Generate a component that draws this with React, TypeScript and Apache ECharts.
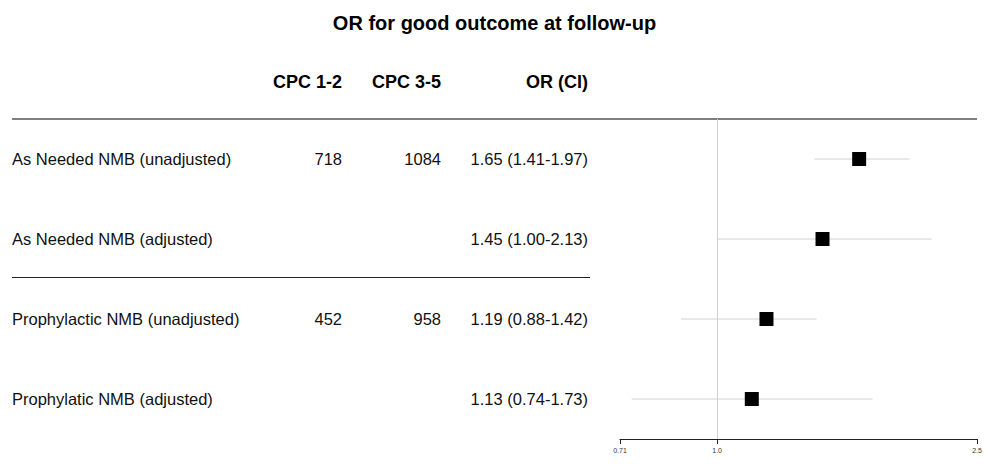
import React, { useEffect, useRef } from "react";
import * as echarts from "echarts";

const titleText = "OR for good outcome at follow-up";
const columnHeaders = ["CPC 1-2", "CPC 3-5", "OR (CI)"];
const rowLabels = [
  "As Needed NMB (unadjusted)",
  "As Needed NMB (adjusted)",
  "Prophylactic NMB (unadjusted)",
  "Prophylatic NMB (adjusted)",
];
const cpc12 = ["718", "", "452", ""];
const cpc35 = ["1084", "", "958", ""];
const orValues = [1.65, 1.45, 1.19, 1.13];
const ciLow = [1.41, 1.0, 0.88, 0.74];
const ciHigh = [1.97, 2.13, 1.42, 1.73];
const axisTicks = [0.71, 1.0, 2.5];
const tickLabels = ["0.71", "1.0", "2.5"];

const FONT = "Liberation Sans, Arial, sans-serif";
const BODY = 16.5;
const HEAD = 18;

export default function App() {
  const ref = useRef<HTMLDivElement>(null);
  useEffect(() => {
    if (!ref.current) return;
    const chart = echarts.init(ref.current, undefined, { renderer: "svg" });
    const orText = orValues.map(
      (v, i) => `${v.toFixed(2)} (${ciLow[i].toFixed(2)}-${ciHigh[i].toFixed(2)})`
    );
    const gridLeft = 620;
    const labelAxis = (data: string[], margin: number, align: string, name: string) => ({
      type: "category",
      data,
      inverse: true,
      gridIndex: 0,
      position: "left",
      axisLine: { show: false },
      axisTick: { show: false },
      splitLine: { show: false },
      name,
      nameLocation: "start",
      nameGap: 28,
      nameTextStyle: {
        fontFamily: FONT,
        fontSize: HEAD,
        fontWeight: "bold",
        color: "#000",
        align: "right",
        padding: [0, margin, 0, 0],
      },
      axisLabel: {
        show: true,
        interval: 0,
        margin,
        align,
        fontFamily: FONT,
        fontSize: BODY,
        color: "#111",
      },
    });
    const option: any = {
      animation: false,
      backgroundColor: "#fff",
      title: {
        text: titleText,
        left: "center",
        top: 8,
        textStyle: { fontFamily: FONT, fontSize: 20, fontWeight: "bold", color: "#000" },
      },
      grid: { left: gridLeft, right: 12, top: 119, height: 320 },
      xAxis: {
        type: "log",
        logBase: 10,
        min: axisTicks[0],
        max: axisTicks[axisTicks.length - 1],
        splitLine: { show: false },
        axisLine: { show: true, lineStyle: { color: "#222", width: 1.2 } },
        axisTick: { show: true, length: 5, lineStyle: { color: "#222" } },
        axisLabel: {
          fontFamily: FONT,
          fontSize: 7,
          color: "#333",
          margin: 8,
          showMinLabel: true,
          showMaxLabel: true,
          formatter: (v: number) => {
            const i = axisTicks.findIndex((t) => Math.abs(t - v) < 1e-6);
            return i >= 0 ? tickLabels[i] : "";
          },
        },
      },
      yAxis: [
        {
          type: "category",
          data: rowLabels,
          inverse: true,
          axisLine: { show: false },
          axisTick: { show: false },
          axisLabel: {
            show: true,
            interval: 0,
            margin: gridLeft - 12,
            align: "left",
            fontFamily: FONT,
            fontSize: BODY,
            color: "#111",
          },
          splitLine: { show: false },
        },
        labelAxis(cpc12, gridLeft - 342, "right", columnHeaders[0]),
        labelAxis(cpc35, gridLeft - 441, "right", columnHeaders[1]),
        labelAxis(orText, gridLeft - 588, "right", columnHeaders[2]),
      ],
      graphic: [
        {
          type: "line",
          shape: { x1: 12, y1: 119, x2: 977, y2: 119 },
          style: { stroke: "#555", lineWidth: 1.5 },
        },
        {
          type: "line",
          shape: { x1: 12, y1: 277.5, x2: 590, y2: 277.5 },
          style: { stroke: "#222", lineWidth: 1 },
        },
      ],
      series: [
        {
          type: "custom",
          xAxisIndex: 0,
          yAxisIndex: 0,
          z: 1,
          data: ciLow.map((lo, i) => [lo, ciHigh[i], i]),
          encode: { x: [0, 1], y: 2 },
          renderItem: (params: any, api: any) => {
            const p1 = api.coord([api.value(0), api.value(2)]);
            const p2 = api.coord([api.value(1), api.value(2)]);
            return {
              type: "line",
              shape: { x1: p1[0], y1: p1[1], x2: p2[0], y2: p2[1] },
              style: { stroke: "#d0d0d0", lineWidth: 1 },
            };
          },
        },
        {
          type: "scatter",
          xAxisIndex: 0,
          yAxisIndex: 0,
          z: 3,
          symbol: "rect",
          symbolSize: 14,
          itemStyle: { color: "#000", opacity: 1 },
          data: orValues.map((v, i) => [v, i]),
          markLine: {
            silent: true,
            symbol: "none",
            label: { show: false },
            lineStyle: { color: "#d0d0d0", type: "solid", width: 1 },
            data: [{ xAxis: 1 }],
          },
        },
      ],
    };
    chart.setOption(option);
    return () => chart.dispose();
  }, []);
  return (
    <div
      ref={ref}
      style={{ position: "fixed", left: 0, top: 0, width: 989, height: 464 }}
    />
  );
}
